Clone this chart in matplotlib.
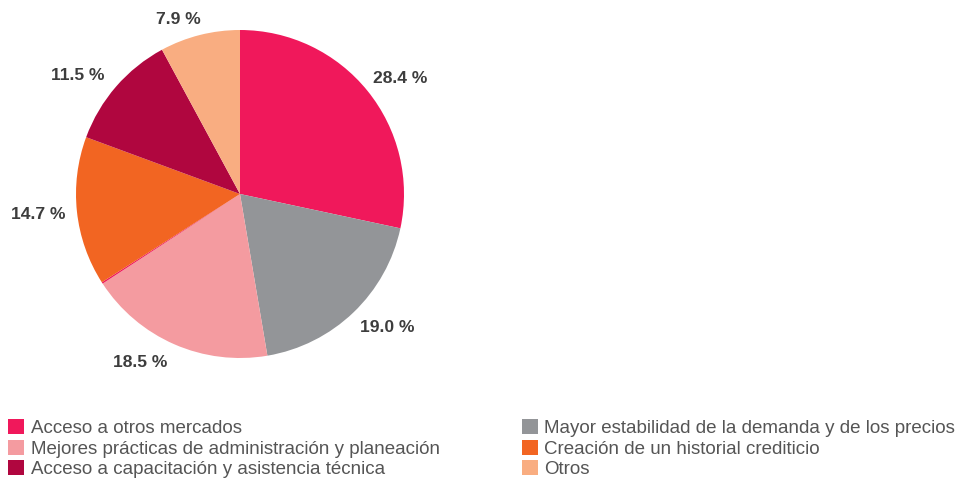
import matplotlib
matplotlib.use("Agg")
import matplotlib.pyplot as plt
from matplotlib.patches import Patch

plt.rcParams['font.family'] = ['Liberation Sans', 'DejaVu Sans']

categories = [
    "Acceso a otros mercados",
    "Mayor estabilidad de la demanda y de los precios",
    "Mejores prácticas de administración y planeación",
    "",
    "Creación de un historial crediticio",
    "Acceso a capacitación y asistencia técnica",
    "Otros",
]
values = [28.4, 19.0, 18.5, 0.15, 14.7, 11.5, 7.9]
pct_labels = ["28.4 %", "19.0 %", "18.5 %", "", "14.7 %", "11.5 %", "7.9 %"]
colors = ["#f0185b", "#939598", "#f49ba0", "#f0185b", "#f26522", "#b0063f", "#f9ad81"]

# label placement (data coords, pie radius = 1)
label_xy = [(0.976, 0.707), (0.896, -0.811), (-0.61, -1.025), (0, 0),
            (-1.232, -0.122), (-0.988, 0.72), (-0.378, 1.067)]

W, H = 962, 478
fig = plt.figure(figsize=(W / 100, H / 100), dpi=100)
cx, cy, r = 240, 194, 164
ax = fig.add_axes([(cx - r) / W, (H - cy - r) / H, 2 * r / W, 2 * r / H])
wedges, _ = ax.pie(values, colors=colors, startangle=90, counterclock=False)
for lab, (x, y) in zip(pct_labels, label_xy):
    if lab:
        ax.text(x, y, lab, ha='center', va='center', fontsize=12.6,
                fontweight='bold', color='#3d3d3d', clip_on=False)
ax.set_xlim(-1, 1)
ax.set_ylim(-1, 1)
ax.set_aspect('equal')
ax.axis('off')

legend_order = [[0, 2, 5], [1, 4, 6]]
xs = [0.0085, 0.5425]
for col, x in zip(legend_order, xs):
    handles = [Patch(facecolor=colors[i], edgecolor='none') for i in col]
    labs = [categories[i] for i in col]
    fig.legend(handles, labs, loc='upper left', bbox_to_anchor=(x, 0.123),
               frameon=False, fontsize=13.5, labelcolor='#555555',
               handlelength=0.85, handleheight=0.85, handletextpad=0.35,
               labelspacing=0.14, borderaxespad=0, borderpad=0)

fig.savefig("out.png", dpi=100)
